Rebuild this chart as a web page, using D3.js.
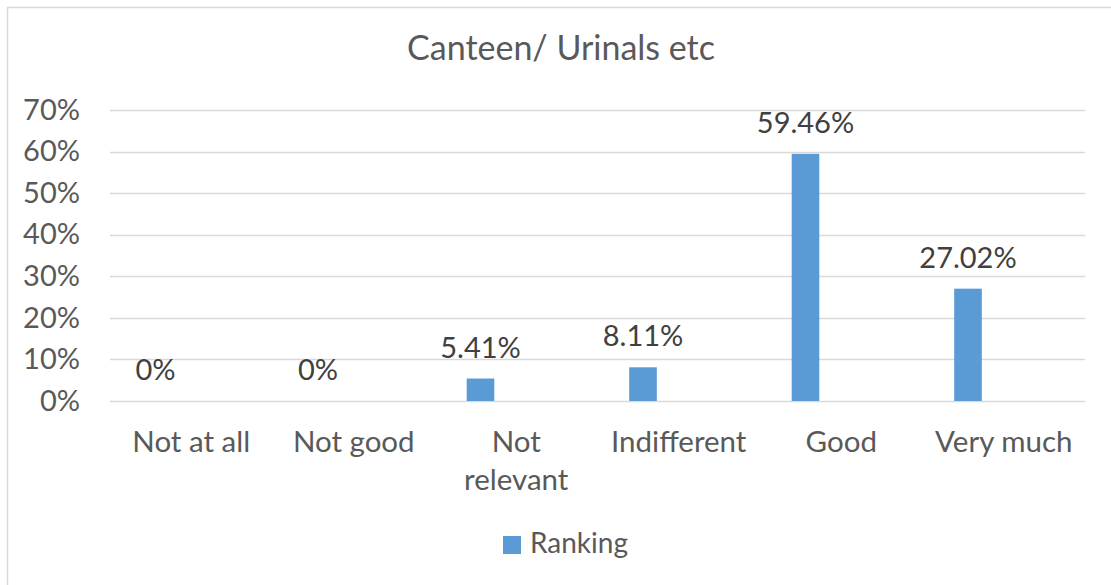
<!DOCTYPE html>
<html>
<head>
<meta charset="utf-8">
<script src="https://cdn.jsdelivr.net/npm/d3@7"></script>
<style>
  html, body { margin: 0; padding: 0; background: #fff; }
  svg { display: block; }
  text { font-family: Lato, "Open Sans", sans-serif; }
</style>
</head>
<body>
<svg id="chart" width="1111" height="585"></svg>
<script>
const title = "Canteen/ Urinals etc";
const categories = ["Not at all", "Not good", "Not relevant", "Indifferent", "Good", "Very much"];
const categoryLines = [["Not at all"], ["Not good"], ["Not", "relevant"], ["Indifferent"], ["Good"], ["Very much"]];
const seriesName = "Ranking";
const values = [0, 0, 0.0541, 0.0811, 0.5946, 0.2702];
const valueLabels = ["0%", "0%", "5.41%", "8.11%", "59.46%", "27.02%"];
const yTicks = [0, 0.1, 0.2, 0.3, 0.4, 0.5, 0.6, 0.7];

const svg = d3.select("#chart");
const W = 1111, H = 585;
const plot = { left: 110, right: 1085, top: 110, bottom: 401 };

// chart border
svg.append("rect").attr("x", 7.5).attr("y", 7.5).attr("width", W + 10).attr("height", H + 10)
  .attr("fill", "#fff").attr("stroke", "#d9d9d9").attr("stroke-width", 1.5);

const x = d3.scaleBand().domain(categories).range([plot.left, plot.right]).padding(0);
const y = d3.scaleLinear().domain([0, 0.7]).range([plot.bottom, plot.top]);

// gridlines
svg.append("g").selectAll("line").data(yTicks).join("line")
  .attr("x1", plot.left).attr("x2", plot.right)
  .attr("y1", d => Math.round(y(d)) + 0.5).attr("y2", d => Math.round(y(d)) + 0.5)
  .attr("stroke", "#d9d9d9").attr("stroke-width", 1.3);

// y axis labels
const yAxis = d3.axisLeft(y).tickValues(yTicks).tickFormat(d3.format(".0%")).tickSize(0).tickPadding(0);
const ya = svg.append("g").attr("transform", `translate(80,0)`).call(yAxis);
ya.select(".domain").remove();
ya.selectAll("text").attr("font-family", "Lato, sans-serif").attr("font-size", 29).attr("fill", "#595959");

// bars
const barOff = x.bandwidth() * 0.195;
const barW = x.bandwidth() * 0.17;
svg.append("g").selectAll("rect").data(values).join("rect")
  .attr("x", (d, i) => x(categories[i]) + barOff)
  .attr("width", barW)
  .attr("y", d => y(d))
  .attr("height", d => plot.bottom - y(d))
  .attr("fill", "#5b9bd5");

// data labels
svg.append("g").selectAll("text").data(values).join("text")
  .attr("x", (d, i) => x(categories[i]) + barOff + barW / 2)
  .attr("y", d => y(d) - 21)
  .attr("text-anchor", "middle")
  .attr("font-size", 29).attr("fill", "#404040")
  .text((d, i) => valueLabels[i]);

// category labels
const cg = svg.append("g").selectAll("text").data(categories).join("text")
  .attr("x", d => x(d) + x.bandwidth() / 2)
  .attr("y", 452)
  .attr("text-anchor", "middle")
  .attr("font-size", 29.5).attr("fill", "#595959");
cg.selectAll("tspan").data((d, i) => categoryLines[i]).join("tspan")
  .attr("x", function () { return d3.select(this.parentNode).attr("x"); })
  .attr("dy", (d, j) => j === 0 ? 0 : 38)
  .text(d => d);

// title
svg.append("text").attr("x", 561).attr("y", 60).attr("text-anchor", "middle")
  .attr("font-size", 34).attr("fill", "#595959").text(title);

// legend
svg.append("rect").attr("x", 503).attr("y", 536).attr("width", 18).attr("height", 18).attr("fill", "#5b9bd5");
svg.append("text").attr("x", 530).attr("y", 553).attr("font-size", 28).attr("fill", "#595959").text(seriesName);
</script>
</body>
</html>
